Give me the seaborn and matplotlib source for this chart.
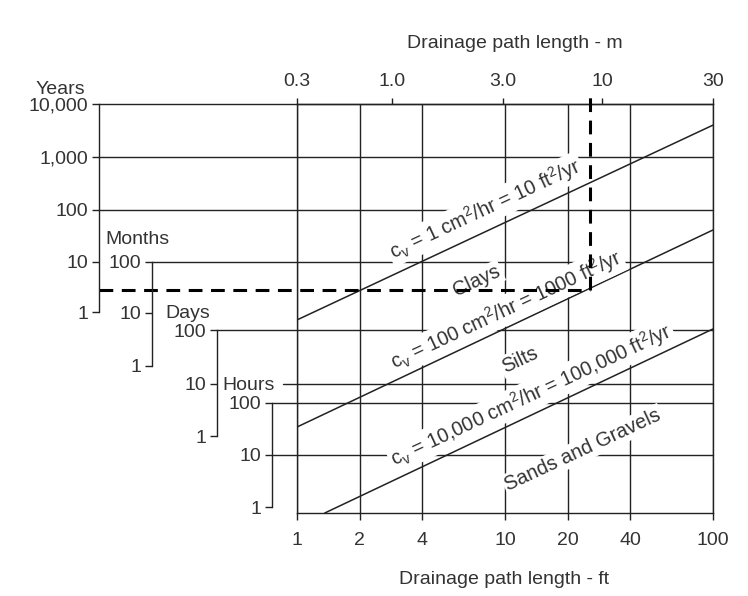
import numpy as np
import pandas as pd
import matplotlib
matplotlib.use("Agg")
import matplotlib.pyplot as plt
import seaborn as sns
from matplotlib.ticker import NullLocator

sns.set_theme(style="white")
plt.rcParams["font.family"] = ["Liberation Sans", "DejaVu Sans"]
plt.rcParams["mathtext.default"] = "regular"

# ---------------- data ----------------
ft_ticks = [1, 2, 4, 10, 20, 40, 100]
ft_labels = ["1", "2", "4", "10", "20", "40", "100"]
m_labels = ["0.3", "1.0", "3.0", "10", "30"]
m_pos_ft = [1.0, 2.86, 9.78, 29.3, 100]          # where the metre ticks sit on the ft scale

# time scales: tick labels and their position on the common (hours) log scale
years_labels = ["10,000", "1,000", "100", "10", "1"]
years_pos_h = [5.6e7, 5.4e6, 5.2e5, 5.2e4, 5.6e3]
months_labels = ["100", "10", "1"]
months_pos_h = [5.2e4, 5.4e3, 515]
days_labels = ["100", "10", "1"]
days_pos_h = [2.5e3, 233, 23]
hours_labels = ["100", "10", "1"]
hours_pos_h = [100, 10, 1]

# consolidation lines (end points, ft / hours)
cv_names = ["1 cm2/hr", "100 cm2/hr", "10,000 cm2/hr"]
cv_ft = [[1, 100], [1, 100], [1.36, 100]]
cv_hours = [[3950, 2.2e7], [34.5, 2.12e5], [0.767, 2650]]

# worked example (dashed)
example_ft = 25.6
example_hours = 1.49e4

time_range_h = [0.767, 5.6e7]

# ---------------- layout ----------------
W, H = 748, 596
LINE = "#222222"
TXT = "#333333"
FS = 14

fig = plt.figure(figsize=(W / 100, H / 100), dpi=100)
fig.patch.set_facecolor("white")

px_left, px_right, px_top, px_bot = 297, 713, 104, 513
ax = fig.add_axes([px_left / W, 1 - px_bot / H, (px_right - px_left) / W, (px_bot - px_top) / H])
ax.set_xscale("log")
ax.set_yscale("log")
ax.set_xlim(1, 100)
ax.set_ylim(*time_range_h)
ax.set_facecolor("white")
for s in ax.spines.values():
    s.set_visible(True)
    s.set_color(LINE)
    s.set_linewidth(1.0)

def frac_of_px(px):
    return (px - px_left) / (px_right - px_left)

# sub-axes for the four time scales
sub_x = {"Years": 99, "Months": 152, "Days": 217, "Hours": 272}
scales = {
    "Years": (years_labels, years_pos_h),
    "Months": (months_labels, months_pos_h),
    "Days": (days_labels, days_pos_h),
    "Hours": (hours_labels, hours_pos_h),
}
for name, (labs, pos) in scales.items():
    sx = sub_x[name]
    sub = fig.add_axes([sx / W, 1 - px_bot / H, 0.0001, (px_bot - px_top) / H])
    sub.set_yscale("log")
    sub.set_ylim(*time_range_h)
    sub.patch.set_visible(False)
    for k in ["top", "right", "bottom"]:
        sub.spines[k].set_visible(False)
    sub.spines["left"].set_visible(True)
    sub.spines["left"].set_color(LINE)
    sub.spines["left"].set_linewidth(1.0)
    sub.spines["left"].set_bounds(min(pos), max(pos))
    sub.set_xticks([])
    sub.set_yticks(pos, labs)
    sub.yaxis.set_minor_locator(NullLocator())
    sub.tick_params(axis="y", left=True, direction="out", length=5, width=1.0,
                    color=LINE, labelcolor=TXT, labelsize=FS, pad=3)

# titles of the time scales
title_pos = {"Years": (60, 89), "Months": (137, 240), "Days": (188, 313), "Hours": (249, 386)}
for name, (tx, ty) in title_pos.items():
    fig.text(tx / W, 1 - ty / H, name, ha="center", va="center", fontsize=FS, color=TXT)

# horizontal grid lines (start at the scale they belong to)
yt = ax.get_yaxis_transform()
hgrid = [(years_pos_h[0], sub_x["Years"]), (years_pos_h[1], sub_x["Years"]),
         (years_pos_h[2], sub_x["Years"]), (months_pos_h[0], sub_x["Months"]),
         (days_pos_h[0], sub_x["Days"]), (days_pos_h[1], 283),
         (hours_pos_h[0], sub_x["Hours"]), (hours_pos_h[1], sub_x["Hours"])]
for yv, xs in hgrid:
    ax.plot([frac_of_px(xs), 1], [yv, yv], transform=yt, color=LINE, lw=1.0,
            clip_on=False, zorder=1)

# vertical grid lines
for xv in ft_ticks:
    ax.axvline(xv, color=LINE, lw=1.0, zorder=1)

# consolidation lines via seaborn
df = pd.DataFrame({
    "cv": np.repeat(cv_names, 2),
    "ft": np.concatenate(cv_ft),
    "hours": np.concatenate(cv_hours),
})
for name in cv_names:
    d = df[df["cv"] == name]
    sns.lineplot(data=d, x="ft", y="hours", color=LINE, lw=1.1, ax=ax,
                 estimator=None, sort=False, zorder=2, legend=False)

# diagonal labels
box = dict(facecolor="white", edgecolor="none", pad=1.5)
rot = 25
diag_text = [
    ("c$_v$ = 1 cm$^2$/hr = 10 ft$^2$/yr", 485, 209),
    ("Clays", 477, 281),
    ("c$_v$ = 100 cm$^2$/hr = 1000 ft$^2$/yr", 506, 310),
    ("Silts", 520, 360),
    ("c$_v$ = 10,000 cm$^2$/hr = 100,000 ft$^2$/yr", 531, 395),
    ("Sands and Gravels", 583, 450),
]
for t, px, py in diag_text:
    ax.text(frac_of_px(px), (px_bot - py) / (px_bot - px_top), t, transform=ax.transAxes,
            rotation=rot, rotation_mode="anchor", ha="center", va="center",
            fontsize=FS + 0.3, color=TXT, bbox=box, zorder=3)

# bottom (ft) axis
ax.set_xticks(ft_ticks, ft_labels)
ax.xaxis.set_minor_locator(NullLocator())
ax.yaxis.set_minor_locator(NullLocator())
ax.set_yticks([])
ax.tick_params(axis="x", bottom=True, direction="out", length=5, width=1.0, color=LINE,
               labelcolor=TXT, labelsize=FS, pad=9)
ax.set_xlabel("")
ax.set_ylabel("")

# top (m) axis
axt = ax.twiny()
axt.set_xscale("log")
axt.set_xlim(1, 100)
axt.set_xticks(m_pos_ft, m_labels)
axt.xaxis.set_minor_locator(NullLocator())
for s in axt.spines.values():
    s.set_visible(False)
axt.tick_params(axis="x", top=True, bottom=False, direction="out", length=4, width=1.0,
                color=LINE, labelcolor=TXT, labelsize=FS, pad=6)
axt.set_yticks([])

# dashed example lines
ylo, yhi = np.log10(time_range_h[0]), np.log10(time_range_h[1])
x_left = 10 ** (2 * frac_of_px(sub_x["Years"]))
y_top = 10 ** (ylo + (px_bot - 95) / (px_bot - px_top) * (yhi - ylo))
ax.plot([x_left, example_ft], [example_hours, example_hours], color="black", lw=2.2,
        dashes=(4.5, 2.8), clip_on=False, zorder=5)
ax.plot([example_ft, example_ft], [example_hours, y_top], color="black", lw=2.2,
        dashes=(4.5, 2.8), clip_on=False, zorder=5)

# axis titles
fig.text(515 / W, 1 - 43 / H, "Drainage path length - m", ha="center", va="center",
         fontsize=FS, color=TXT)
fig.text(504 / W, 1 - 580 / H, "Drainage path length - ft", ha="center", va="center",
         fontsize=FS, color=TXT)

fig.savefig("out.png", dpi=100, facecolor="white")
